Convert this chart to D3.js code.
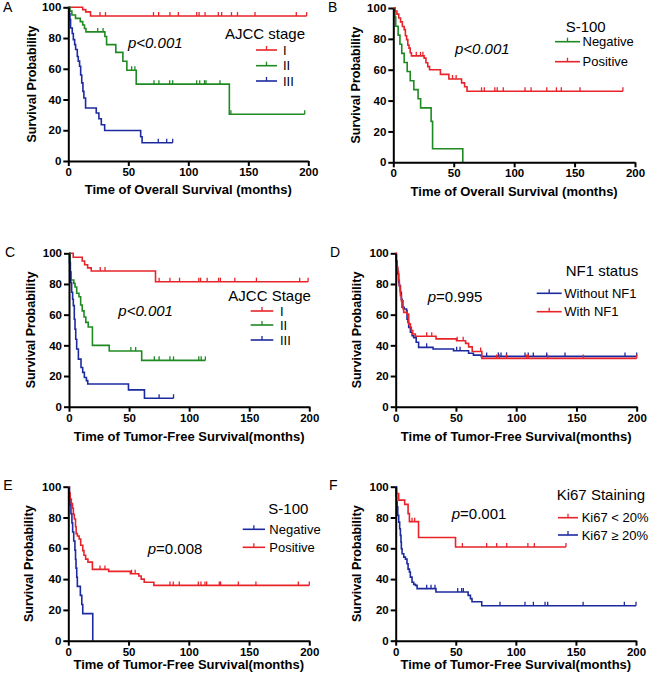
<!DOCTYPE html>
<html><head><meta charset="utf-8">
<script src="https://cdn.jsdelivr.net/npm/d3@7/dist/d3.min.js"></script>
<style>html,body{margin:0;padding:0;background:#fff;}svg{display:block;}</style>
</head><body>
<script>
// ---------- data ----------
const xTicks=[0,50,100,150,200];
const yTicks=[0,20,40,60,80,100];

// A: overall survival by AJCC stage
const A_I=[[0,100],[12,98.5],[14.5,97],[18.5,94.3]];
const A_I_cens=[26.4,31,71,75.3,84.7,91.7,107,109,114,125,127.8,136,141,155.6,190,198.6];
const A_II=[[0,100],[1.4,97.5],[3,95],[6,92.8],[10,90.7],[12,88.5],[13.5,86.2],[14.7,84],[30.5,81],[31.9,75.7],[39.6,70.7],[45.5,64.9],[48.8,59],[56.6,50],[134.2,30.4]];
const A_II_cens=[24.5,29,52.8,55.5,71.4,75.5,84.5,87,107,109.5,113.5,114.7,126.4,135.5,197];
const A_III=[[0,100],[0.8,96],[1.4,92],[1.9,86.5],[3.3,83],[4.2,79],[5.3,75.7],[6.1,72.5],[7.5,68],[8.3,65],[9.4,61.6],[10.3,56],[11.2,50.8],[12.2,45.3],[13,41],[14.4,34.5],[23.3,31.2],[25.5,27.5],[27.5,23.6],[30.3,19.8],[60.3,15.8],[61.5,11.9]];
const A_III_cens=[75,82,87];

// B: overall survival by S-100
const B_neg=[[0,100],[1.4,94.1],[2,88.2],[4,82.4],[5.5,76.5],[7,70.6],[9,64.7],[11.5,58.8],[14,52.9],[17,47.1],[20.5,41.2],[22.6,35.3],[31.3,26.5],[32.5,8.8],[57.5,0]];
const B_neg_cens=[];
const B_pos=[[0,100],[1.5,98],[3,96],[4.5,93.5],[6,91],[7.5,88],[9,86],[10,82],[11,79.5],[12,76],[13,74],[14,71],[15,69],[25.5,67.5],[27,64.5],[28.5,62],[30,60],[39,57],[46,54],[56.5,51.5],[59,49],[61,46]];
const B_pos_cens=[19,22.5,24.5,49,52,73,75.3,84,86,91,109,114,127,135,139,154.5,190];

// C: tumor-free survival by AJCC stage
const C_I=[[0,100],[3.5,97.4],[11,95],[13,92.5],[15.5,90.5],[18.5,88.5],[72,81.5]];
const C_I_cens=[26,30,75,84,92,108,109.5,115,124.5,126,138,156,192,199];
const C_II=[[0,100],[0.8,94],[1.2,88],[1.6,82.6],[4,80.4],[5,78],[6.4,74],[8.3,71.7],[9.7,66.3],[11,62.5],[12.5,58.5],[14,55],[16,52],[19.5,40],[33.5,36.3],[60.5,30.2]];
const C_II_cens=[51.5,55.5,71,75,84,87,108,110,113.5];
const C_III=[[0,100],[0.4,94],[0.8,87.6],[1.4,81],[2.2,74.6],[3,70],[3.6,65.9],[4.4,57],[5,50.6],[5.6,44],[6.4,37.6],[7.8,31],[10,25.6],[11.4,22.4],[12.8,19],[14.5,17],[15.6,14.8],[49.5,11],[62.8,5.5]];
const C_III_cens=[75,87];

// D: tumor-free survival by NF1 status
const D_wo=[[0,100],[0.5,95],[1.1,89.8],[1.7,86.5],[2.5,81],[3,78.9],[3.9,74.6],[4.7,70],[5.3,64.8],[7,63.7],[9,62.6],[9.4,57],[10.2,55],[10.8,51.7],[12.2,48.5],[13.6,46.3],[14.9,45],[17,42],[19,38.7],[31,37.6],[48,36.5],[60.5,34.8],[64.5,33.6],[71,32.8]];
const D_wo_cens=[25.7,50.6,53.4,75.5,85.2,87.4,92,107.3,110,114.2,125.3,140.5,190.3,200];
const D_w=[[0,100],[0.5,94.6],[1,91],[1.7,88],[2.3,82.6],[3,79],[3.6,76],[3.9,72.4],[4.7,69],[6.1,63.7],[6.6,61.5],[9.4,60.4],[10.8,54],[12.2,51.7],[13,49.6],[14.1,47.4],[16.3,45.9],[33.5,44.2],[50.5,43],[58,41.3],[60.5,39],[63.5,36],[71.5,31.5]];
const D_w_cens=[25.7,29.9,51,56,70.5,83.8,86,92,108.7,110,126,155.7,200];

// E: tumor-free survival by S-100
const E_neg=[[0,100],[1,94.1],[1.5,88.2],[2.2,82.4],[3,76.5],[3.6,70.6],[4.5,64.7],[5.5,58.8],[6,52.9],[6.4,47.1],[7,41.2],[7.5,35.3],[10,29.4],[11.2,23.5],[12,17.6],[20.3,0]];
const E_neg_cens=[];
const E_pos=[[0,100],[0.8,96],[1.5,92],[2.5,89],[3.5,86],[4.2,82],[5,79],[6,74],[6.5,69.5],[7.5,68],[9,66],[10.3,62],[12,58.5],[13,55.5],[14.4,53],[16.3,51],[20,46.3],[33.5,45],[51.5,43.5],[58.5,42],[60.5,40],[63,38],[71,35.9]];
const E_pos_cens=[26.3,30.4,52.5,55.5,84.4,87.1,92.1,107.9,110.1,113.4,114.8,125.3,126.4,141.1,155.7,190.9,200];

// F: tumor-free survival by Ki67 staining
const F_low=[[0,100],[0.8,95.5],[2.5,91.3],[7.5,88.5],[10.3,82.5],[11.4,77.3],[19,67],[49.8,60.8]];
const F_low_cens=[13.6,15.8,55.5,75.7,84,92.4,110,115.4,141.7];
const F_high=[[0,100],[0.4,94],[0.8,90],[1.2,87],[1.7,81.4],[2.5,77],[3.3,72.7],[3.9,68.4],[4.4,64],[4.7,59.7],[5.3,56.5],[6.7,54.3],[8.1,53],[9.4,50],[10.3,46.5],[11.4,44.6],[12.2,41.3],[13.6,38],[15,36.6],[16.4,35.9],[17.8,33.8],[33.5,31.6],[60.3,29.4],[62.2,27.3],[63.5,25.3],[71.6,22.7]];
const F_high_cens=[25.8,29.4,32.7,51.6,54.9,56.3,86.8,107.6,114.6,124.3,126.5,156,190.3,200];

// ---------- styles ----------
const FONT='"Liberation Sans", Arial, Helvetica, sans-serif';
const RED='#e8242a', GREEN='#1f8a22', BLUE='#1c2aa0';

const panels=[
 {letter:'A',lx:3,ly:11.5,x0:68.3,x1:308.3,yb:161,yt:7.3,xt:'Time of Overall Survival (months)',xtY:194.3,ytX:35.7,
  lgTitle:'AJCC stage',lgX:225,lgY:39,rows:[50,65.7,81],lineX:[256,277],textX:283,
  p:[['p<0.001','italic']],px:128,py:47.5,
  curves:[[A_I,A_I_cens,RED,'I'],[A_II,A_II_cens,GREEN,'II'],[A_III,A_III_cens,BLUE,'III']]},
 {letter:'B',lx:328,ly:11.5,x0:393.3,x1:635,yb:162.3,yt:8,xt:'Time of Overall Survival (months)',xtY:196,ytX:360,
  lgTitle:'S-100',lgX:565.7,lgY:32.4,rows:[41.7,61.7],lineX:[555,580],textX:582.5,
  p:[['p<0.001','italic']],px:455,py:53.5,
  curves:[[B_neg,B_neg_cens,GREEN,'Negative'],[B_pos,B_pos_cens,RED,'Positive']]},
 {letter:'C',lx:5,ly:257,x0:69,x1:309.3,yb:406.7,yt:253.3,xt:'Time of Tumor-Free Survival(months)',xtY:441,ytX:35,
  lgTitle:'AJCC Stage',lgX:228.3,lgY:301,rows:[311,325,340],lineX:[250.7,273.3],textX:280,
  p:[['p<0.001','italic']],px:118.3,py:316,
  curves:[[C_I,C_I_cens,RED,'I'],[C_II,C_II_cens,GREEN,'II'],[C_III,C_III_cens,BLUE,'III']]},
 {letter:'D',lx:330,ly:257,x0:395.7,x1:636.7,yb:406.7,yt:253.3,xt:'Time of Tumor-Free Survival(months)',xtY:441,ytX:361.3,
  lgTitle:'NF1 status',lgX:565.7,lgY:275.5,rows:[293.3,311.7],lineX:[536.7,561.7],textX:564.3,
  p:[['p','italic'],['=0.995','normal']],px:427.7,py:302,
  curves:[[D_wo,D_wo_cens,BLUE,'Without NF1'],[D_w,D_w_cens,RED,'With NF1']]},
 {letter:'E',lx:3.3,ly:490,x0:68.3,x1:309.3,yb:640.7,yt:486.7,xt:'Time of Tumor-Free Survival(months)',xtY:669.3,ytX:33,
  lgTitle:'S-100',lgX:268.3,lgY:514,rows:[529.3,547.3],lineX:[242.7,265],textX:269.3,
  p:[['p','italic'],['=0.008','normal']],px:147.7,py:554,
  curves:[[E_neg,E_neg_cens,BLUE,'Negative'],[E_pos,E_pos_cens,RED,'Positive']]},
 {letter:'F',lx:329,ly:490,x0:395.7,x1:636,yb:640.7,yt:486.7,xt:'Time of Tumor-Free Survival(months)',xtY:669.3,ytX:361,
  lgTitle:'Ki67 Staining',lgX:556.7,lgY:500,rows:[517.7,535],lineX:[558,578],textX:581.7,
  p:[['p','italic'],['=0.001','normal']],px:451.7,py:519,
  curves:[[F_low,F_low_cens,RED,'Ki67 < 20%'],[F_high,F_high_cens,BLUE,'Ki67 \u2265 20%']]}
];

const svg=d3.select('body').append('svg').attr('width',650).attr('height',677)
  .style('font-family',FONT);
svg.append('rect').attr('width',650).attr('height',677).attr('fill','#fff');

function survAt(steps,t){let s=steps[0][1];for(const [tt,ss] of steps){if(tt<=t)s=ss;}return s;}

panels.forEach(p=>{
  const g=svg.append('g');
  const x=d3.scaleLinear().domain([0,200]).range([p.x0,p.x1]);
  const y=d3.scaleLinear().domain([0,100]).range([p.yb,p.yt]);

  // curves
  const line=d3.line().x(d=>x(d[0])).y(d=>y(d[1])).curve(d3.curveStepAfter);
  p.curves.forEach(([steps,cens,col])=>{
    const last=steps[steps.length-1];
    const end=Math.max(last[0],cens.length?d3.max(cens):0);
    const pts=steps.concat(end>last[0]?[[end,last[1]]]:[]);
    g.append('path').attr('d',line(pts)).attr('fill','none').attr('stroke',col)
     .attr('stroke-width',1.6).attr('stroke-linejoin','miter');
    g.selectAll(null).data(cens).enter().append('line')
     .attr('x1',d=>x(d)).attr('x2',d=>x(d))
     .attr('y1',d=>y(survAt(steps,d))).attr('y2',d=>y(survAt(steps,d))-4)
     .attr('stroke',col).attr('stroke-width',1.3);
  });

  // axes
  const ax=g.append('g').attr('transform',`translate(0,${p.yb})`)
    .call(d3.axisBottom(x).tickValues(xTicks).tickSize(5).tickSizeOuter(0).tickPadding(2));
  const ay=g.append('g').attr('transform',`translate(${p.x0},0)`)
    .call(d3.axisLeft(y).tickValues(yTicks).tickSize(5).tickSizeOuter(0).tickPadding(2));
  [ax,ay].forEach(a=>{
    a.selectAll('path,line').attr('stroke','#000').attr('stroke-width',2);
    a.selectAll('text').attr('fill','#000').style('font-family',FONT)
      .style('font-size','11.5px').style('font-weight','bold');
  });

  // axis titles
  g.append('text').attr('x',(p.x0+p.x1)/2).attr('y',p.xtY).attr('text-anchor','middle')
   .style('font-size','13px').style('font-weight','bold').text(p.xt);
  g.append('text').attr('transform',`translate(${p.ytX},${(p.yb+p.yt)/2}) rotate(-90)`)
   .attr('text-anchor','middle').style('font-size','12.5px').style('font-weight','bold')
   .text('Survival Probability');

  // panel letter
  g.append('text').attr('x',p.lx).attr('y',p.ly).style('font-size','14px').text(p.letter);

  // p-value
  const pt=g.append('text').attr('x',p.px).attr('y',p.py).style('font-size','15px');
  p.p.forEach(([t,st])=>pt.append('tspan').style('font-style',st).text(t));

  // legend
  g.append('text').attr('x',p.lgX).attr('y',p.lgY).style('font-size','15px').text(p.lgTitle);
  p.curves.forEach(([steps,cens,col,lab],i)=>{
    const ry=p.rows[i];
    g.append('line').attr('x1',p.lineX[0]).attr('x2',p.lineX[1]).attr('y1',ry).attr('y2',ry)
     .attr('stroke',col).attr('stroke-width',1.6);
    const mx=(p.lineX[0]+p.lineX[1])/2;
    g.append('line').attr('x1',mx).attr('x2',mx).attr('y1',ry).attr('y2',ry-4)
     .attr('stroke',col).attr('stroke-width',1.3);
    g.append('text').attr('x',p.textX).attr('y',ry+4.7).style('font-size','13px').text(lab);
  });
});
</script>
</body></html>
